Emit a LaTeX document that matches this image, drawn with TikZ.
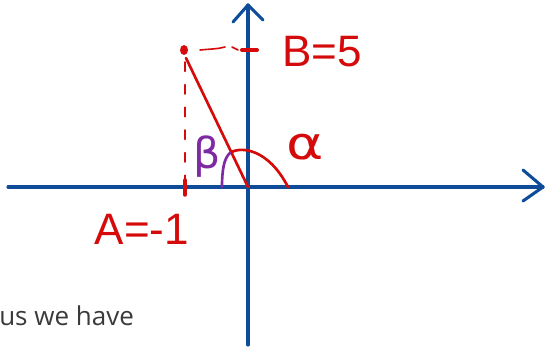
\documentclass[tikz,border=0pt]{standalone}
\usepackage{fontspec}
\setmainfont{Liberation Sans}
\newfontfamily\grk{DejaVu Sans}
\newfontfamily\bodyfont{Open Sans}
\definecolor{axblue}{HTML}{0E4C9A}
\definecolor{inkred}{HTML}{D50A0A}
\definecolor{inkpurple}{HTML}{7E2BA3}
\definecolor{txtgray}{HTML}{3A3A3A}
\tikzset{
  axis/.style={draw=axblue,line width=2.3pt,line cap=round,line join=round},
  redink/.style={draw=inkred,line width=2pt,line cap=round},
  redthin/.style={draw=inkred,line width=1.2pt,line cap=round},
  label/.style={text=inkred,inner sep=0pt,font=\fontsize{33}{33}\selectfont},
}
\begin{document}
\begin{tikzpicture}[x=0.75pt,y=-0.75pt]
\useasboundingbox (0,0) rectangle (545,350);
% axes
\coordinate (xl) at (8,187);
\coordinate (xr) at (543,187);
\coordinate (xb1) at (523,170);
\coordinate (xb2) at (523,201);
\coordinate (yb) at (248,345);
\coordinate (yt) at (248,5);
\coordinate (yb1) at (233,22);
\coordinate (yb2) at (263,20);
\draw[axis] (xl) -- (xr);
\draw[axis] (xb1) -- (xr) -- (xb2);
\draw[axis] (yb) -- (yt);
\draw[axis] (yb1) -- (yt) -- (yb2);
% point and line
\coordinate (P) at (184,50);
\coordinate (O) at (248,187);
\fill[inkred] (P) ellipse (4 and 5);
\draw[redink] (186,58) -- (O);
% dashed guides
\draw[redthin,dash pattern=on 7pt off 10pt] (185,62) -- (185,180);
\draw[redink,line width=2.6pt] (185,180) -- (185,195);
\draw[redthin] (200,50) .. controls (210,49) and (218,49) .. (225,47);
\draw[redthin] (232,47) -- (238,50);
\draw[redink,line width=3pt] (242,50) -- (257,50);
% angle arcs
\coordinate (Q) at (230,153);
\draw[redink] (Q) .. controls (240,146) and (268,148) .. (288,187);
\draw[draw=inkpurple,line width=2pt,line cap=round] (222,187) .. controls (222,170) and (224,158) .. (Q);
% labels
\node[label,anchor=center] (B) at (322,52) {B=5};
\node[label,anchor=center] (A) at (142,229) {A=-1};
\node[text=inkred,inner sep=0pt,xscale=1.25,font=\grk\fontsize{34}{34}\selectfont] (alpha) at (305,147) {α};
\node[text=inkpurple,inner sep=0pt,font=\grk\fontsize{32}{32}\selectfont] (beta) at (207,157) {β};
\node[text=txtgray,inner sep=0pt,anchor=base west,font=\bodyfont\fontsize{19.5}{19.5}\selectfont] (body) at (-1,325) {us we have};
\end{tikzpicture}
\end{document}
